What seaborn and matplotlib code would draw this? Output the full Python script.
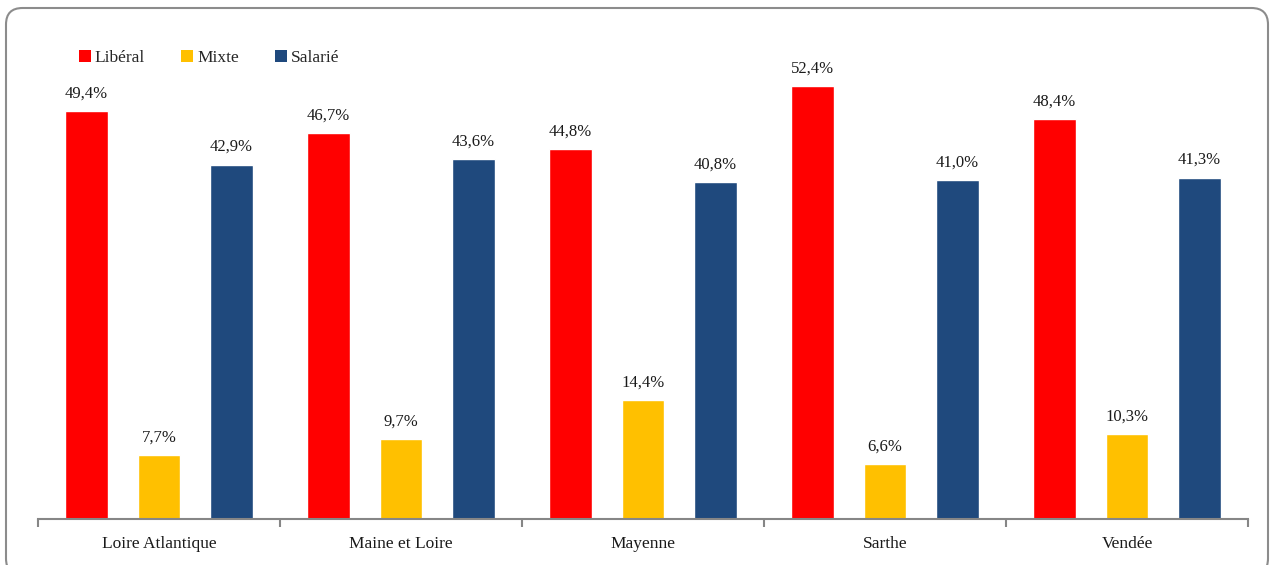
import numpy as np
import pandas as pd
import matplotlib
matplotlib.use("Agg")
import matplotlib.pyplot as plt
import seaborn as sns
from matplotlib.patches import FancyBboxPatch, Patch

departements = ["Loire Atlantique", "Maine et Loire", "Mayenne", "Sarthe", "Vendée"]
series = ["Libéral", "Mixte", "Salarié"]
liberal = [49.4, 46.7, 44.8, 52.4, 48.4]
mixte = [7.7, 9.7, 14.4, 6.6, 10.3]
salarie = [42.9, 43.6, 40.8, 41.0, 41.3]
colors = ["#FF0000", "#FFC000", "#1F497D"]

rows = []
for s, vals in zip(series, [liberal, mixte, salarie]):
    for d, v in zip(departements, vals):
        rows.append({"dep": d, "mode": s, "val": v})
df = pd.DataFrame(rows)

sns.set_theme(style="white")
plt.rcParams["font.family"] = ["Liberation Serif", "DejaVu Serif"]

W, H = 1270, 565
fig = plt.figure(figsize=(W / 100, H / 100), dpi=100)
left, right = 38, 1248
bottom_px, top_px = 519, 23.4
ax = fig.add_axes([left / W, 1 - bottom_px / H, (right - left) / W, (bottom_px - top_px) / H])

sns.barplot(data=df, x="dep", y="val", hue="mode", order=departements, hue_order=series,
            palette=colors, width=0.9, gap=0.41, ax=ax, legend=False, errorbar=None,
            saturation=1)

for cont in ax.containers:
    labels = [f"{b.get_height():.1f}%".replace(".", ",") for b in cont]
    ax.bar_label(cont, labels=labels, padding=7, fontsize=12, color="#1a1a1a")

ax.set_ylim(0, 60)
ax.set_xlim(-0.5, len(departements) - 0.5)
ax.set_xlabel("")
ax.set_ylabel("")
ax.set_yticks([])
for sp in ["left", "top", "right"]:
    ax.spines[sp].set_visible(False)
ax.spines["bottom"].set_color("#868686")
ax.spines["bottom"].set_linewidth(1.5)
ax.set_xticks(range(len(departements)))
ax.set_xticklabels(departements, fontsize=12.5, color="#1a1a1a")
ax.set_xticks(np.arange(-0.5, len(departements), 1.0), minor=True)
ax.tick_params(axis="x", which="major", length=0, pad=12)
ax.tick_params(axis="x", which="minor", length=6, width=1.5, color="#868686", direction="out", bottom=True)
ax.set_facecolor("none")

handles = [Patch(facecolor=c, edgecolor="none") for c in colors]
fig.legend(handles, series, loc="upper left", bbox_to_anchor=(79 / W, 1 - 50 / H),
           ncol=3, frameon=False, fontsize=12.5, handlelength=0.7, handleheight=0.7,
           handletextpad=0.2, columnspacing=2.1, borderaxespad=0, borderpad=0)

box = FancyBboxPatch((6 / W, -10 / H), (1268 - 6) / W, (H - 8 + 10) / H,
                     boxstyle="round,pad=0,rounding_size=0.013",
                     transform=fig.transFigure, facecolor="none", edgecolor="#8c8c8c",
                     linewidth=1.5, mutation_aspect=W / H)
fig.patches.append(box)

fig.savefig("out.png", dpi=100)
